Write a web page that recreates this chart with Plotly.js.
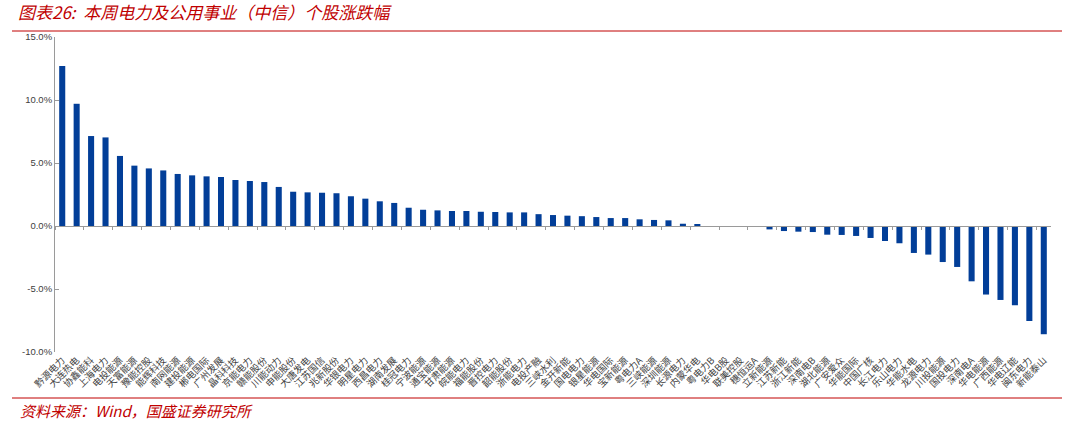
<!DOCTYPE html>
<html>
<head>
<meta charset="utf-8">
<script src="https://cdn.plot.ly/plotly-3.0.1.min.js"></script>
<style>
html,body{margin:0;padding:0;background:#fff;}
#chart{width:1065px;height:421px;}
</style>
</head>
<body>
<div id="chart"></div>
<script>
const categories = ["黔源电力","大连热电","协鑫能科","上海电力","电投能源","天富能源","豫能控股","能辉科技","南网能源","建投能源",
"郴电国际","广州发展","晶科科技","京能电力","赣能股份","川能动力","申能股份","大唐发电","江苏国信","兆新股份",
"华银电力","明星电力","西昌电力","湖南发展","桂冠电力","宁波能源","通宝能源","甘肃能源","皖能电力","福能股份",
"晋控电力","韶能股份","浙能电力","电投产融","三峡水利","金开新能","国电电力","银星能源","华电国际","宝新能源",
"粤电力A","三峡能源","深圳能源","长源电力","内蒙华电","粤电力B","华电B股","联美控股","穗恒运A","立新能源",
"江苏新能","浙江新能","深南电B","湖北能源","广安爱众","华能国际","中国广核","长江电力","乐山电力","华能水电",
"龙源电力","川投能源","国投电力","深南电A","华电能源","广西能源","华电辽能","闽东电力","新能泰山"];
const changes = [12.7, 9.7, 7.14, 7.03, 5.56, 4.79, 4.57, 4.41, 4.13, 4.02,
3.94, 3.89, 3.65, 3.57, 3.49, 3.10, 2.72, 2.67, 2.64, 2.60,
2.36, 2.17, 1.96, 1.83, 1.45, 1.29, 1.24, 1.19, 1.19, 1.13,
1.11, 1.08, 1.08, 0.94, 0.87, 0.82, 0.78, 0.71, 0.63, 0.63,
0.53, 0.48, 0.45, 0.18, 0.16, 0, 0, 0, 0, -0.27,
-0.40, -0.45, -0.48, -0.69, -0.71, -0.79, -0.95, -1.19, -1.37, -2.14,
-2.27, -2.86, -3.25, -4.39, -5.44, -5.87, -6.29, -7.54, -8.59];
const yTicks = [-10, -5, 0, 5, 10, 15];
const titleText = "图表26:  本周电力及公用事业（中信）个股涨跌幅";
const sourceText = "资料来源：Wind，国盛证券研究所";

const red = "#c00000";
const cjk = "'Noto Sans CJK SC', 'Noto Sans', sans-serif";
const W = 1065, H = 421;
const m = {l:55, r:14, t:37, b:69};
const pw = W - m.l - m.r, ph = H - m.t - m.b;
const px = x => (x - m.l) / pw;
const py = y => (H - m.b - y) / ph;
const yMin = -10, yMax = 15;

const traces = [
  {type:'bar', x:categories, y:changes, marker:{color:'#023e98'}, hoverinfo:'x+y', xaxis:'x', yaxis:'y'},
  {type:'scatter', mode:'markers', x:categories, y:changes, marker:{opacity:0}, hoverinfo:'skip', xaxis:'x2', yaxis:'y', showlegend:false}
];

const layout = {
  width:W, height:H,
  margin:m,
  paper_bgcolor:'#fff', plot_bgcolor:'#fff',
  showlegend:false,
  bargap:0.58,
  font:{family:cjk, color:'#404040'},
  title:{text:titleText, x:18/W, xref:'container', xanchor:'left', y:1-13/H, yref:'container', yanchor:'middle',
         font:{family:cjk, size:17, color:red, style:'italic'}},
  xaxis:{type:'category', categoryorder:'array', categoryarray:categories, range:[-0.5, categories.length-0.5],
         showline:false, showgrid:false, zeroline:false, ticks:'', tickangle:-45,
         tickfont:{size:9.5, color:'#404040', family:cjk}, automargin:false},
  xaxis2:{type:'category', categoryorder:'array', categoryarray:categories, range:[-0.5, categories.length-0.5],
          overlaying:'x', anchor:'free', position:(0 - yMin)/(yMax - yMin),
          showline:true, linecolor:'#9a9a9a', linewidth:1, ticks:'outside', tickson:'boundaries', ticklen:3, tickcolor:'#9a9a9a',
          showticklabels:false, showgrid:false, zeroline:false},
  yaxis:{range:[yMin, yMax], tickvals:yTicks, ticktext:yTicks.map(v => v.toFixed(1) + '%'),
         showline:true, linecolor:'#9a9a9a', linewidth:1, ticks:'inside', ticklen:4, tickcolor:'#9a9a9a',
         showgrid:false, zeroline:false, tickfont:{size:9.5, color:'#404040', family:"'Liberation Sans', sans-serif"}, automargin:false},
  shapes:[
    {type:'line', xref:'paper', yref:'paper', x0:px(12), x1:px(1062), y0:py(31), y1:py(31), line:{color:red, width:1}},
    {type:'line', xref:'paper', yref:'paper', x0:px(12), x1:px(1062), y0:py(398), y1:py(398), line:{color:red, width:1}}
  ],
  annotations:[
    {text:sourceText, xref:'paper', yref:'paper', x:px(18), y:py(410), xanchor:'left', yanchor:'middle', showarrow:false,
     font:{family:cjk, size:15, color:red, style:'italic'}}
  ]
};

Plotly.newPlot('chart', traces, layout, {displayModeBar:false, staticPlot:true});
</script>
</body>
</html>
